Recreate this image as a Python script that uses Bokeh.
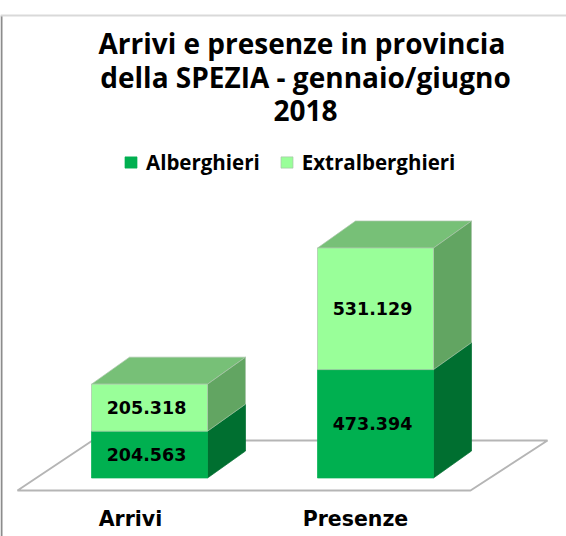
from bokeh.plotting import figure
from bokeh.models import Range1d, FixedTicker, Label, Legend, LegendItem, BoxAnnotation
from bokeh.core.properties import value
from bokeh.embed import file_html
from bokeh.resources import INLINE

# data
categories = ["Arrivi", "Presenze"]
alberghieri = [204563, 473394]
extralberghieri = [205318, 531129]
title_lines = ["Arrivi e presenze  in provincia", "della SPEZIA - gennaio/giugno", "2018"]

# layout (pixels of the picture)
W, H = 566, 536
AXIS_ROW = 500
BASE_PX = 477.5         # pixel row of value 0
UNITS_PER_PX = 1004523 / 230.0
BAR_LEFT = [91, 317]
BAR_W = 116
DX, DY = 38, 27
TICK_X = [130, 355]
FLOOR_PX = [(17, 490), (470, 490), (547, 440), (92, 440)]
LABEL_SHIFT_X = -3

def yv(px):
    return (BASE_PX - px) * UNITS_PER_PX

dy_units = DY * UNITS_PER_PX

p = figure(width=W, height=H, output_backend="svg", toolbar_location=None,
           x_range=Range1d(0, W), y_range=Range1d(yv(H), yv(0)),
           min_border_left=0, min_border_right=0, min_border_top=0, min_border_bottom=0,
           y_axis_location=None, outline_line_color=None, background_fill_color="white",
           styles={"position": "absolute", "left": "0px", "top": "0px"})
p.grid.visible = False

ax = p.xaxis[0]
ax.fixed_location = yv(AXIS_ROW)
ax.ticker = FixedTicker(ticks=TICK_X)
ax.major_label_overrides = {x: c for x, c in zip(TICK_X, categories)}
ax.axis_line_color = None
ax.major_tick_line_color = None
ax.minor_tick_line_color = None
ax.major_tick_in = 0
ax.major_tick_out = 0
ax.major_label_standoff = 6
ax.major_label_text_font = "DejaVu Sans"
ax.major_label_text_font_style = "bold"
ax.major_label_text_font_size = "20.5px"
ax.major_label_text_color = "black"

# page frame lines
p.add_layout(BoxAnnotation(left=0, right=2, top=15, bottom=H, left_units="canvas", right_units="canvas",
                           top_units="canvas", bottom_units="canvas", fill_color="#8c8c8c", fill_alpha=1,
                           line_color=None, level="overlay"))
p.add_layout(BoxAnnotation(left=0, right=W, top=14, bottom=16, left_units="canvas", right_units="canvas",
                           top_units="canvas", bottom_units="canvas", fill_color="#d9d9d9", fill_alpha=1,
                           line_color=None, level="overlay"))

# floor
p.patch([c[0] for c in FLOOR_PX], [yv(c[1]) for c in FLOOR_PX],
        fill_color="white", line_color="#b5b5b5", line_width=2)

def box(x0, lo, hi, front, side, top=None, edge=None):
    x1 = x0 + BAR_W
    if top:
        p.patch([x0, x1, x1 + DX, x0 + DX], [hi, hi, hi + dy_units, hi + dy_units],
                fill_color=top, line_color=edge, line_width=0.7)
    p.patch([x1, x1 + DX, x1 + DX, x1], [lo, lo + dy_units, hi + dy_units, hi],
            fill_color=side, line_color=edge or side, line_width=0.7)
    return p.quad(left=[x0], right=[x1], bottom=[lo], top=[hi], fill_color=front,
                  line_color=edge or front, line_width=0.7)

r_a = r_e = None
for x0, a, e in zip(BAR_LEFT, alberghieri, extralberghieri):
    r_a = box(x0, 0, a, "#00B050", "#006F30")
    r_e = box(x0, a, a + e, "#99FF99", "#62A562", "#77C077", "#a9c4a9")
    for lo, v in ((0, a), (a, e)):
        p.text([x0 + BAR_W / 2 + LABEL_SHIFT_X], [lo + v / 2], text=[f"{v:,}".replace(",", ".")],
               text_align="center", text_baseline="middle", text_color="black",
               text_font=value("DejaVu Sans"), text_font_style="bold", text_font_size="17.5px")

# title
for line, y in zip(title_lines, (42, 76, 110)):
    p.add_layout(Label(x=305, y=yv(y), text=line, text_align="center", text_baseline="middle",
                       text_font="Open Sans", text_font_style="bold", text_font_size="28px", text_color="black"))

# legend
leg = Legend(items=[LegendItem(label="Alberghieri", renderers=[r_a]),
                    LegendItem(label="Extralberghieri", renderers=[r_e])],
             orientation="horizontal", location=(123, H - 176),
             background_fill_alpha=0, border_line_color=None,
             glyph_width=15, glyph_height=14, label_standoff=8, spacing=19,
             label_text_font="Open Sans", label_text_font_style="bold", label_text_font_size="20.5px",
             label_text_color="black", margin=0, padding=0)
p.add_layout(leg)

open("out.html", "w").write(file_html(p, INLINE))
